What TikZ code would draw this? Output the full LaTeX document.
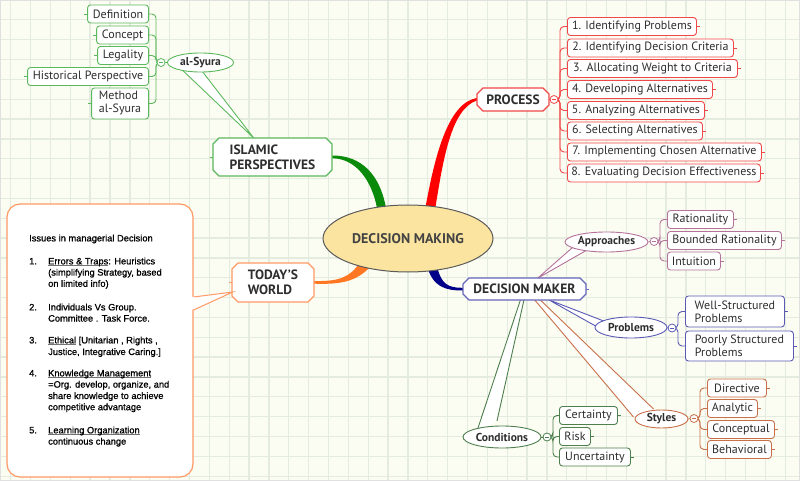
\documentclass[tikz,border=0pt]{standalone}
\usepackage{fontspec}
\setmainfont{PT Sans}
\newfontfamily\calloutfont[FakeBold=0.9]{Liberation Sans}
\usetikzlibrary{shapes.geometric,calc}
\definecolor{bgc}{HTML}{FCFDF2}
\definecolor{gridc}{HTML}{E4EBDF}
\definecolor{txtc}{HTML}{2E2E2E}
\definecolor{procc}{HTML}{F04848}
\definecolor{procbr}{HTML}{FF0000}
\definecolor{islc}{HTML}{5CB85C}
\definecolor{islbr}{HTML}{0A8A0A}
\definecolor{todc}{HTML}{FF9966}
\definecolor{todbr}{HTML}{FF7722}
\definecolor{dmc}{HTML}{6666BB}
\definecolor{dmbr}{HTML}{000088}
\definecolor{appc}{HTML}{B5739B}
\definecolor{probc}{HTML}{5A5AB5}
\definecolor{stylc}{HTML}{C8704A}
\definecolor{condc}{HTML}{4E7F4E}
\definecolor{centfill}{HTML}{FBE3A0}
\definecolor{centdraw}{HTML}{5A5A5A}
\pgfdeclarelayer{bgl}
\pgfdeclarelayer{conn}
\pgfsetlayers{bgl,conn,main}
\newcommand\myul[1]{\setbox0\hbox{#1}\rlap{\color{black!55}\rule[-1.4pt]{\wd0}{0.6pt}}\box0\relax}
\newcommand\octnode[7]{%
  \pgfmathsetmacro\octXa{#2-#4/2}\pgfmathsetmacro\octXb{#2+#4/2}%
  \pgfmathsetmacro\octYa{#3-#5/2}\pgfmathsetmacro\octYb{#3+#5/2}%
  \filldraw[draw=#6, fill=white, line width=1.1pt]
    (\octXa+6,\octYa) -- (\octXb-6,\octYa) -- (\octXb,\octYa+6) -- (\octXb,\octYb-6)
    -- (\octXb-6,\octYb) -- (\octXa+6,\octYb) -- (\octXa,\octYb-6) -- (\octXa,\octYa+6) -- cycle;
  \node[minimum width=#4, minimum height=#5, inner sep=0pt, align=left, text=txtc,
    font=\bfseries\fontsize{13.5}{15}\selectfont] (#1) at (#2,#3) {#7};}
\tikzset{
  cbox/.style={draw=#1, fill=white, rounded corners=3pt, line width=0.9pt, inner sep=0pt,
    minimum height=18, font=\fontsize{12}{13}\selectfont, text=txtc},
  cbox2/.style={cbox=#1, align=left, minimum height=31},
  cell/.style={ellipse, draw=#1, fill=white, line width=0.9pt, inner sep=0pt,
    font=\bfseries\fontsize{11.5}{13}\selectfont, text=txtc},
  circ/.style={circle, draw=#1, fill=white, line width=0.8pt, inner sep=0pt, minimum size=8,
    path picture={\draw[#1, line width=0.8pt] ([xshift=-2pt]path picture bounding box.center) -- ([xshift=2pt]path picture bounding box.center);}},
  link/.style={draw=#1, line width=0.9pt, rounded corners=4pt},
  ctext/.style={anchor=base west, inner sep=0pt, font=\calloutfont\fontsize{9.3}{11}\selectfont, text=black},
}
\begin{document}
\begin{tikzpicture}[x=1pt,y=-1pt]
\useasboundingbox (0,0) rectangle (800,481);
\begin{pgfonlayer}{bgl}
  \fill[bgc] (0,0) rectangle (800,481);
  \foreach \i in {0,...,40} {\draw[gridc, line width=1.3pt] (10.7+19.86*\i,0) -- ++(0,481);}
  \foreach \i in {0,...,24} {\draw[gridc, line width=1.3pt] (0,19.84*\i) -- ++(800,0);}
  \draw[black!12, line width=1pt] (0.5,0.5) rectangle (799.5,480.5);
\end{pgfonlayer}

% ---------- central topic ----------
\node[ellipse, draw=centdraw, fill=centfill, line width=1pt, minimum width=170, minimum height=67,
  inner sep=0pt, font=\bfseries\fontsize{14}{16}\selectfont, text=txtc!90!white] (dm) at (408,238.5) {DECISION MAKING};

% ---------- main topics ----------
\octnode{proc}{513}{99.5}{72}{23}{procc}{PROCESS}
\octnode{isl}{272.5}{157}{119}{38}{islc}{ISLAMIC\\PERSPECTIVES}
\octnode{today}{273}{282.5}{82}{39}{todc}{TODAY'S\\WORLD}
\octnode{dmk}{524.5}{289}{123}{22}{dmc}{DECISION MAKER}

% ---------- callout box ----------
\node[draw=todc, fill=white, rounded corners=13pt, line width=1.2pt, minimum width=186,
  minimum height=273, inner sep=0pt] (callout) at (100,340.5) {};
\fill[white] (191.2,297) -- ($(today.west)+(1,9.5)$) -- (191.2,310) -- cycle;
\draw[todc, line width=1pt] ($(callout.east)+(0,-43.5)$) coordinate (cwa) -- ($(today.west)+(1,9.5)$) coordinate (cwt) -- ($(callout.east)+(0,-30.5)$) coordinate (cwb);
\node[ctext] (l0) at (29,241.4) {Issues in managerial Decision};
\node[ctext] (n1) at (29,264.4) {1.};
\node[ctext] (l1) at (48,264.4) {\myul{Errors \& Traps}: Heuristics};
\node[ctext] (l2) at (48,275.6) {(simplifying Strategy, based};
\node[ctext] (l3) at (48,286.8) {on limited info)};
\node[ctext] (n2) at (29,310.4) {2.};
\node[ctext] (l4) at (48,310.4) {Individuals Vs Group.};
\node[ctext] (l5) at (48,321.6) {Committee . Task Force.};
\node[ctext] (n3) at (29,343.4) {3.};
\node[ctext] (l6) at (48,343.4) {\myul{Ethical} [Unitarian , Rights ,};
\node[ctext] (l7) at (48,355) {Justice, Integrative Caring.]};
\node[ctext] (n4) at (29,376.4) {4.};
\node[ctext] (l8) at (48,376.4) {\myul{Knowledge Management}};
\node[ctext] (l9) at (48,387.6) {=Org. develop, organize, and};
\node[ctext] (l10) at (48,399) {share knowledge to achieve};
\node[ctext] (l11) at (48,410.2) {competitive advantage};
\node[ctext] (n5) at (29,433.4) {5.};
\node[ctext] (l12) at (48,433.4) {\myul{Learning Organization}};
\node[ctext] (l13) at (48,444.6) {continuous change};

% ---------- PROCESS children ----------
\node[circ=procc] (pc) at (554,99.5) {};
\foreach \nm/\y/\w/\t in {p1/26.5/129/{1. Identifying Problems},
  p2/48/166/{2. Identifying Decision Criteria},
  p3/68.5/170/{3. Allocating Weight to Criteria},
  p4/89.5/145/{4. Developing Alternatives},
  p5/110.5/137/{5. Analyzing Alternatives},
  p6/131/135/{6. Selecting Alternatives},
  p7/152/194/{7. Implementing Chosen Alternative},
  p8/173/193/{8. Evaluating Decision Effectiveness}}
  {\node[cbox=procc, minimum width=\w, anchor=west] (\nm) at (567,\y) {\t};}

% ---------- ISLAMIC children ----------
\node[cell=islc, minimum width=66, minimum height=19] (syura) at (200.5,62.5) {al-Syura};
\node[circ=islc] (sc) at (161,62.5) {};
\foreach \nm/\y/\w/\t in {s1/14/61/{Definition}, s2/35/52/{Concept}, s3/55.5/51/{Legality},
  s4/76.5/121/{Historical Perspective}}
  {\node[cbox=islc, minimum width=\w, anchor=east] (\nm) at (149,\y) {\t};}
\node[cbox2=islc, minimum width=57, anchor=east] (s5) at (149,103.5) {Method\\al-Syura};

% ---------- DECISION MAKER children ----------
\node[cell=appc, minimum width=83, minimum height=20] (appr) at (606.5,242) {Approaches};
\node[circ=appc] (ac) at (654,241.5) {};
\foreach \nm/\y/\w/\t in {a1/219.5/66/{Rationality}, a2/240.5/114/{Bounded Rationality}, a3/261/53/{Intuition}}
  {\node[cbox=appc, minimum width=\w, anchor=west] (\nm) at (667,\y) {\t};}

\node[cell=probc, minimum width=72, minimum height=21] (prob) at (631,327.5) {Problems};
\node[circ=probc] (prc) at (672,328) {};
\node[cbox2=probc, minimum width=99, anchor=west] (b1) at (685,311.5) {Well-Structured\\Problems};
\node[cbox2=probc, minimum width=108, minimum height=30, anchor=west] (b2) at (685,346) {Poorly Structured\\Problems};

\node[cell=stylc, minimum width=53, minimum height=18] (styl) at (661.5,419) {Styles};
\node[circ=stylc] (stc) at (694,418.5) {};
\foreach \nm/\y/\w/\t in {y1/388/59/{Directive}, y2/408.5/50/{Analytic}, y3/429.5/67/{Conceptual}, y4/449.5/64/{Behavioral}}
  {\node[cbox=stylc, minimum width=\w, anchor=west] (\nm) at (707,\y) {\t};}

\node[cell=condc, minimum width=78, minimum height=22] (cond) at (502,437) {Conditions};
\node[circ=condc] (cc) at (547,437) {};
\foreach \nm/\y/\w/\t in {c1/415.5/58/{Certainty}, c2/436.5/31/{Risk}, c3/457/71/{Uncertainty}}
  {\node[cbox=condc, minimum width=\w, anchor=west] (\nm) at (559,\y) {\t};}

% ---------- connectors (under nodes) ----------
\begin{pgfonlayer}{conn}
  % main tapered branches
  \fill[procbr] (425,210) .. controls (434,160) and (447,103) .. ($(proc.west)+(0,-1.5)$)
     -- ($(proc.west)+(0,1)$) .. controls (451,109) and (443,160) .. (435,210) -- cycle;
  \fill[islbr] (386,208) .. controls (380,175) and (362,155.5) .. ($(isl.east)+(0,-1.5)$)
     -- ($(isl.east)+(0,1.3)$) .. controls (357,158.5) and (372,182) .. (377,208) -- cycle;
  \fill[todbr] (360,262) .. controls (350,278) and (338,281.5) .. ($(today.east)+(0,-1.5)$)
     -- ($(today.east)+(0,1.2)$) .. controls (340,284.5) and (356,282) .. (370,267) -- cycle;
  \fill[dmbr] (427,266) .. controls (433,287) and (445,290.5) .. ($(dmk.west)+(0,1.5)$)
     -- ($(dmk.west)+(0,-1.2)$) .. controls (448,288) and (441,284) .. (437,266) -- cycle;
  % callout wedges
  \filldraw[fill=white, draw=islc, line width=0.9pt] ($(syura.center)+(-24,2)$) -- ($(isl.north)+(-18.5,0.5)$) -- ($(syura.center)+(-2,4)$);
  \filldraw[fill=white, draw=appc, line width=0.9pt] ($(appr.center)+(-30,2)$) -- ($(dmk.north)+(13,0.5)$) -- ($(appr.center)+(-16,6)$);
  \filldraw[fill=white, draw=probc, line width=0.9pt] ($(prob.center)+(-26,-6)$) -- ($(dmk.south)+(24,-0.5)$) -- ($(prob.center)+(-22,6)$);
  \filldraw[fill=white, draw=stylc, line width=0.9pt] ($(styl.center)+(-28,-2)$) -- ($(dmk.south)+(10,-0.5)$) -- ($(dmk.south)+(15.5,-0.5)$) -- ($(styl.center)+(-8,-10)$);
  \filldraw[fill=white, draw=condc, line width=0.9pt] ($(cond.center)+(-26,-3)$) -- ($(dmk.south)+(-4,-0.5)$) -- ($(dmk.south)+(-0.5,-0.5)$) -- ($(cond.center)+(-5,-16)$);
  % parent to collapse circles
  \draw[procc, line width=0.9pt] (proc.east) -- (pc.west);
  \draw[islc, line width=0.9pt] (syura.west) -- (sc.east);
  \draw[appc, line width=0.9pt] (appr.east) -- (ac.west);
  \draw[probc, line width=0.9pt] (prob.east) -- (prc.west);
  \draw[stylc, line width=0.9pt] (styl.east) -- (stc.west);
  \draw[condc, line width=0.9pt] (cond.east) -- (cc.west);
  % brackets to children
  \foreach \c in {p1,p2,p3,p4,p5,p6,p7,p8} {\draw[link=procc] (pc.east) -- (560,99.5) |- (\c.west); \draw[procc, line width=0.8pt] (\c.east) -- ++(3,0);}
  \foreach \c in {s1,s2,s3,s4,s5} {\draw[link=islc] (sc.west) -- (156,62.5) |- (\c.east); \draw[islc, line width=0.8pt] (\c.west) -- ++(-3,0);}
  \foreach \c in {a1,a2,a3} {\draw[link=appc] (ac.east) -- (660,241.5) |- (\c.west); \draw[appc, line width=0.8pt] (\c.east) -- ++(3,0);}
  \foreach \c in {b1,b2} {\draw[link=probc] (prc.east) -- (678,328) |- (\c.west); \draw[probc, line width=0.8pt] (\c.east) -- ++(3,0);}
  \foreach \c in {y1,y2,y3,y4} {\draw[link=stylc] (stc.east) -- (700,418.5) |- (\c.west); \draw[stylc, line width=0.8pt] (\c.east) -- ++(3,0);}
  \foreach \c in {c1,c2,c3} {\draw[link=condc] (cc.east) -- (553,437) |- (\c.west); \draw[condc, line width=0.8pt] (\c.east) -- ++(3,0);}
  % ticks on main topics
  \draw[islc, line width=0.8pt] (isl.west) -- ++(-3,0);
  \draw[todc, line width=0.8pt] (today.west) -- ++(-3,0);
  \draw[dmc, line width=0.8pt] (dmk.east) -- ++(3,0);
\end{pgfonlayer}
\end{tikzpicture}
\end{document}
